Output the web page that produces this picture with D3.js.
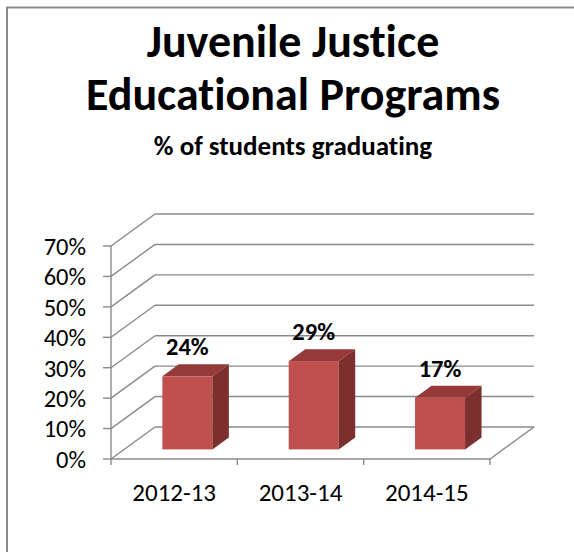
<!DOCTYPE html>
<meta charset="utf-8">

<!-- Load d3.js -->
<script src="https://d3js.org/d3.v7.min.js"></script>

<style>
  body { margin: 0; background: #fff; }
  text { font-family: Calibri, Carlito, Lato, sans-serif; fill: #000; font-variant-ligatures: none; }
</style>

<svg id="chart" width="574" height="552"></svg>

<script>

    // data
    const categories = ["2012-13", "2013-14", "2014-15"]
    const values = [0.24, 0.29, 0.17]
    const valueLabels = ["24%", "29%", "17%"]
    const yTicks = [0, 0.1, 0.2, 0.3, 0.4, 0.5, 0.6, 0.7]
    const titleLines = ["Juvenile Justice", "Educational Programs"]
    const subtitle = "% of students graduating"

    const svg = d3.select("#chart"),
      width = +svg.attr("width"),
      height = +svg.attr("height");

    svg.append("rect").attr("width", width).attr("height", height).attr("fill", "#fff")

    // chart frame (only top and left edge show in the crop)
    svg.append("path")
      .attr("d", "M7,552 V7.5 H574")
      .attr("fill", "none")
      .attr("stroke", "#8c8c8c")
      .attr("stroke-width", 2)

    // titles
    const cx = 293
    svg.selectAll(".title")
      .data(titleLines)
      .enter()
      .append("text")
        .attr("class", "title")
        .attr("x", cx)
        .attr("y", function(d, i){ return 57 + i * 53 })
        .attr("text-anchor", "middle")
        .style("font-size", "46px")
        .style("font-weight", "bold")
        .text(function(d){ return d })

    svg.append("text")
      .attr("x", cx)
      .attr("y", 155)
      .attr("text-anchor", "middle")
      .style("font-size", "27px")
      .style("font-weight", "bold")
      .text(subtitle)

    // 3d geometry: front plane + depth vector
    const x0 = 111, x1 = 490
    const depth = { dx: 44, dy: -32 }
    const x = d3.scaleBand().domain(categories).range([x0, x1])
    const y = d3.scaleLinear().domain([0, 0.7]).range([459, 246])

    const grid = svg.append("g")
      .attr("fill", "none")
      .attr("stroke", "#8a8a8a")
      .attr("stroke-width", 1.4)

    // back wall lines
    grid.selectAll("line.back")
      .data(yTicks)
      .enter()
      .append("line")
        .attr("x1", x0 + depth.dx)
        .attr("x2", x1 + depth.dx)
        .attr("y1", function(d){ return y(d) + depth.dy })
        .attr("y2", function(d){ return y(d) + depth.dy })

    // side wall lines
    grid.selectAll("line.side")
      .data(yTicks)
      .enter()
      .append("line")
        .attr("x1", x0)
        .attr("x2", x0 + depth.dx)
        .attr("y1", function(d){ return y(d) })
        .attr("y2", function(d){ return y(d) + depth.dy })

    // floor: right edge + front edge
    grid.append("line")
      .attr("x1", x1).attr("y1", y(0))
      .attr("x2", x1 + depth.dx).attr("y2", y(0) + depth.dy)
    grid.append("line")
      .attr("x1", x0).attr("y1", y(0))
      .attr("x2", x1).attr("y2", y(0))

    // y axis line and ticks
    grid.append("line")
      .attr("x1", x0).attr("y1", y(0.7))
      .attr("x2", x0).attr("y2", y(0))
    grid.selectAll("line.ytick")
      .data(yTicks)
      .enter()
      .append("line")
        .attr("x1", x0 - 8).attr("x2", x0)
        .attr("y1", function(d){ return y(d) })
        .attr("y2", function(d){ return y(d) })

    // x ticks at category boundaries
    const bounds = categories.map(function(c){ return x(c) }).concat([x1])
    grid.selectAll("line.xtick")
      .data(bounds)
      .enter()
      .append("line")
        .attr("x1", function(d){ return d }).attr("x2", function(d){ return d })
        .attr("y1", y(0)).attr("y2", y(0) + 6)

    // y labels
    svg.selectAll(".ylab")
      .data(yTicks)
      .enter()
      .append("text")
        .attr("x", 86)
        .attr("y", function(d){ return y(d) })
        .attr("dy", "0.36em")
        .attr("text-anchor", "end")
        .style("font-size", "24.5px")
        .text(d3.format(".0%"))

    // x labels
    svg.selectAll(".xlab")
      .data(categories)
      .enter()
      .append("text")
        .attr("x", function(d){ return x(d) + x.bandwidth() / 2 })
        .attr("y", 501)
        .attr("text-anchor", "middle")
        .style("font-size", "25px")
        .text(function(d){ return d })

    // bars: front face at f1 of depth, back face at f2
    const f1 = 0.30, f2 = 0.675
    const barW = 50
    const bars = categories.map(function(c, i){
      const left = x(c) + (x.bandwidth() - barW) / 2 + f1 * depth.dx
      const right = left + barW
      const yb = y(0) + f1 * depth.dy
      const yt = y(values[i]) + f1 * depth.dy
      const ddx = (f2 - f1) * depth.dx, ddy = (f2 - f1) * depth.dy
      return { left: left, right: right, yb: yb, yt: yt, ddx: ddx, ddy: ddy, label: valueLabels[i] }
    })

    const g = svg.append("g")

    g.selectAll(".front")
      .data(bars)
      .enter()
      .append("rect")
        .attr("x", function(d){ return d.left })
        .attr("y", function(d){ return d.yt })
        .attr("width", barW)
        .attr("height", function(d){ return d.yb - d.yt })
        .attr("fill", "#c0504d")

    g.selectAll(".top")
      .data(bars)
      .enter()
      .append("path")
        .attr("d", function(d){
          return "M" + d.left + "," + d.yt + "L" + d.right + "," + d.yt +
                 "L" + (d.right + d.ddx) + "," + (d.yt + d.ddy) +
                 "L" + (d.left + d.ddx) + "," + (d.yt + d.ddy) + "Z"
        })
        .attr("fill", "#953a38")

    g.selectAll(".side")
      .data(bars)
      .enter()
      .append("path")
        .attr("d", function(d){
          return "M" + d.right + "," + d.yt + "L" + (d.right + d.ddx) + "," + (d.yt + d.ddy) +
                 "L" + (d.right + d.ddx) + "," + (d.yb + d.ddy) +
                 "L" + d.right + "," + d.yb + "Z"
        })
        .attr("fill", "#7b302e")

    // value labels
    svg.selectAll(".vlab")
      .data(bars)
      .enter()
      .append("text")
        .attr("x", function(d){ return d.left + barW / 2 })
        .attr("y", function(d){ return d.yt - 21 })
        .attr("text-anchor", "middle")
        .style("font-size", "24.5px")
        .style("font-weight", "bold")
        .text(function(d){ return d.label })

</script>
